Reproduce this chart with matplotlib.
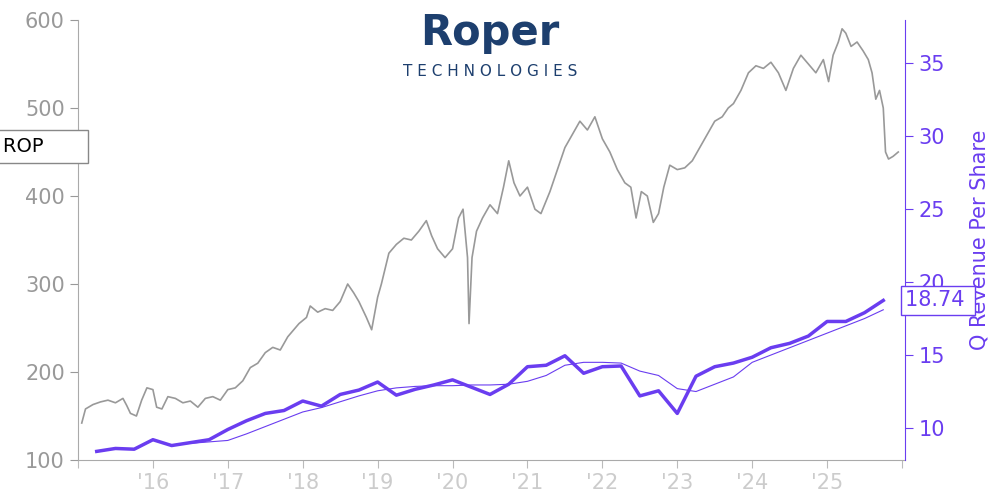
import matplotlib
matplotlib.use("Agg")
import matplotlib.pyplot as plt

# ROP share price (approximate)
price_t = [2015.05, 2015.1, 2015.2, 2015.3, 2015.4, 2015.5, 2015.6, 2015.65, 2015.7, 2015.78, 2015.85,
           2015.92, 2016.0, 2016.05, 2016.12, 2016.2, 2016.3, 2016.4, 2016.5, 2016.6, 2016.7, 2016.8,
           2016.9, 2017.0, 2017.1, 2017.2, 2017.3, 2017.4, 2017.5, 2017.6, 2017.7, 2017.8, 2017.95,
           2018.05, 2018.1, 2018.2, 2018.3, 2018.4, 2018.5, 2018.6, 2018.68, 2018.75, 2018.85, 2018.92,
           2019.0, 2019.05, 2019.15, 2019.25, 2019.35, 2019.45, 2019.55, 2019.65, 2019.72, 2019.8,
           2019.9, 2020.0, 2020.08, 2020.14, 2020.2, 2020.22, 2020.26, 2020.32, 2020.4, 2020.5, 2020.6,
           2020.68, 2020.75, 2020.82, 2020.9, 2021.0, 2021.1, 2021.18, 2021.3, 2021.4, 2021.5, 2021.6,
           2021.7, 2021.8, 2021.9, 2022.0, 2022.1, 2022.2, 2022.3, 2022.38, 2022.45, 2022.52, 2022.6,
           2022.68, 2022.75, 2022.82, 2022.9, 2023.0, 2023.1, 2023.2, 2023.3, 2023.4, 2023.5, 2023.6,
           2023.68, 2023.75, 2023.85, 2023.95, 2024.05, 2024.15, 2024.25, 2024.35, 2024.45, 2024.55,
           2024.65, 2024.75, 2024.85, 2024.95, 2025.02, 2025.08, 2025.15, 2025.2, 2025.25, 2025.32,
           2025.4, 2025.48, 2025.55, 2025.6, 2025.65, 2025.7, 2025.75, 2025.78, 2025.82, 2025.88, 2025.95]
price = [142, 158, 163, 166, 168, 165, 170, 162, 153, 150, 168,
         182, 180, 160, 158, 172, 170, 165, 167, 160, 170, 172,
         168, 180, 182, 190, 205, 210, 222, 228, 225, 240, 255,
         262, 275, 268, 272, 270, 280, 300, 290, 280, 262, 248,
         285, 300, 335, 345, 352, 350, 360, 372, 355, 340,
         330, 340, 375, 385, 330, 255, 330, 360, 375, 390, 380,
         410, 440, 415, 400, 410, 385, 380, 405, 430, 455, 470,
         485, 475, 490, 465, 450, 430, 415, 410, 375, 405, 400,
         370, 380, 410, 435, 430, 432, 440, 455, 470, 485, 490,
         500, 505, 520, 540, 548, 545, 552, 540, 520, 545,
         560, 550, 540, 555, 530, 560, 575, 590, 585, 570,
         575, 565, 555, 540, 510, 520, 500, 450, 442, 445, 450]

# Quarterly revenue per share
q_t = [2015.25 + 0.25 * i for i in range(43)]
q_rev = [8.4, 8.6, 8.55, 9.2, 8.8, 9.0, 9.2, 9.9, 10.5, 11.0, 11.2, 11.85, 11.5, 12.3, 12.6,
         13.15, 12.25, 12.65, 12.95, 13.3, 12.8, 12.3, 13.0, 14.2, 14.3, 14.95, 13.75, 14.2,
         14.25, 12.2, 12.55, 11.0, 13.55, 14.2, 14.45, 14.85, 15.5, 15.8, 16.3, 17.3, 17.3,
         17.9, 18.74]
# Trailing average revenue per share
avg_t = [2016.25 + 0.25 * i for i in range(39)]
avg_rev = [8.85, 8.95, 9.05, 9.15, 9.6, 10.1, 10.6, 11.1, 11.4, 11.8, 12.2, 12.55, 12.75, 12.85,
           12.9, 12.9, 12.95, 12.95, 13.0, 13.2, 13.6, 14.3, 14.5, 14.5, 14.45, 13.9, 13.6, 12.7,
           12.5, 13.0, 13.5, 14.5, 15.0, 15.5, 16.0, 16.5, 17.0, 17.5, 18.1]

years = list(range(2015, 2027))
year_labels = [''] + ["'%d" % (y % 100) for y in range(2016, 2026)] + ['']

purple = '#6a3df0'
gray = '#999999'

fig = plt.figure(figsize=(10, 5), dpi=100)
ax = fig.add_axes([0.078, 0.08, 0.827, 0.88])
ax.plot(price_t, price, color='#999999', lw=1.2)
ax.set_ylim(100, 600)
ax.set_xlim(2015, 2026.04)
ax.set_yticks([100, 200, 300, 400, 500, 600])
ax.set_xticks(years)
ax.set_xticklabels(year_labels)
ax.tick_params(axis='y', colors=gray, labelsize=15, length=6)
ax.tick_params(axis='x', colors='#bbbbbb', labelsize=15, length=6, labelcolor='#cccccc')
for s in ['top', 'right']:
    ax.spines[s].set_visible(False)
for s in ['left', 'bottom']:
    ax.spines[s].set_color('#aaaaaa')

ax2 = ax.twinx()
ax2.plot(avg_t, avg_rev, color=purple, lw=0.8)
ax2.plot(q_t, q_rev, color=purple, lw=2.5)
ax2.set_ylim(7.81, 37.95)
ax2.set_yticks([10, 15, 20, 25, 30, 35])
ax2.tick_params(axis='y', colors=purple, labelsize=15, length=6)
for s in ['top', 'left', 'bottom']:
    ax2.spines[s].set_visible(False)
ax2.spines['right'].set_color(purple)
ax2.set_ylabel('Q Revenue Per Share', color=purple, fontsize=15, labelpad=18)

fig.text(0.49, 0.935, 'Roper', color='#1d3f6e', fontsize=30, fontweight='bold',
         ha='center', va='center')
fig.text(0.49, 0.858, 'T E C H N O L O G I E S', color='#1d3f6e', fontsize=11,
         ha='center', va='center')

fig.text(0.003, 0.707, 'ROP      ', fontsize=14, color='black', ha='left', va='center',
         bbox=dict(boxstyle='square,pad=0.35', fc='white', ec='#888888'))
ax2.text(1.0, q_rev[-1], '18.74 ', transform=ax2.get_yaxis_transform(), fontsize=15,
         color=purple, ha='left', va='center',
         bbox=dict(boxstyle='square,pad=0.2', fc='white', ec=purple))

fig.savefig('out.png', dpi=100)
